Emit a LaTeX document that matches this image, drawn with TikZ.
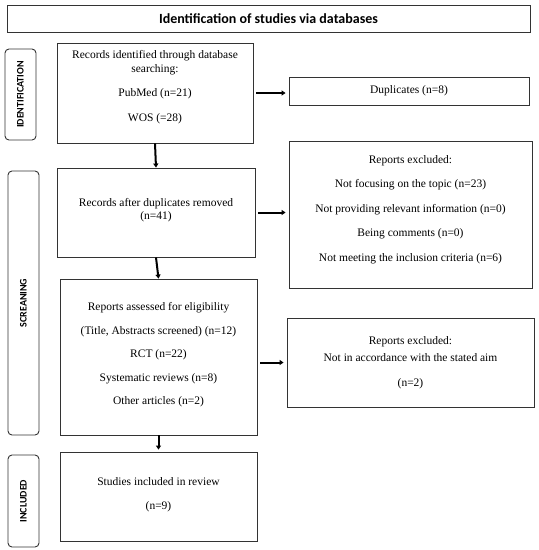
\documentclass[tikz,border=0pt]{standalone}
\usepackage{fontspec}
\setmainfont{Liberation Serif}
\newfontfamily\carlito{Carlito}
\usepackage{tikz}
\usetikzlibrary{arrows.meta}

\begin{document}
\begin{tikzpicture}[x=1pt,y=-1pt,
		box/.style={draw=black!80, line width=0.9pt, align=center, inner sep=0pt, font=\fontsize{11.5}{13.5}\selectfont},
		side/.style={draw=black!80, line width=0.9pt, rounded corners=4pt, minimum height=31pt, rotate=90, font=\carlito\bfseries\fontsize{10}{12}\selectfont},
		flow/.style={-{Triangle[length=4pt,width=5pt]}, line width=2pt}]
		\useasboundingbox (0,0) rectangle (539,550);

		\node[draw=black!80, line width=0.9pt, minimum width=523pt, minimum height=27pt, font=\carlito\bfseries\fontsize{14}{16}\selectfont] (title) at (268.5,18.5) {Identification of studies via databases};

		\foreach \name/\lab/\x/\y/\len in {idside/IDENTIFICATION/20.5/94.5/91, scside/SCREANING/23.5/303/264, inside/INCLUDED/23.5/501/92}{
			\node[side, minimum width=\len pt] (\name) at (\x,\y) {\lab};
		}

		\node[box, minimum width=196pt, minimum height=100pt, text depth=14pt] (records) at (155,93) {Records identified through database\\searching:\\[11pt]PubMed (n=21)\\[11pt]WOS (=28)};
		\node[box, minimum width=198pt, minimum height=89pt, text depth=7pt] (removed) at (156,212.5) {Records after duplicates removed\\(n=41)};
		\node[box, minimum width=197pt, minimum height=156pt, text depth=7pt] (assessed) at (158.5,357) {Reports assessed for eligibility\\[10pt](Title, Abstracts screened) (n=12)\\[10pt]RCT (n=22)\\[10pt]Systematic reviews (n=8)\\[10pt]Other articles (n=2)};
		\node[box, minimum width=197pt, minimum height=89pt, text depth=6pt] (included) at (158.5,496.5) {Studies included in review\\[10.5pt](n=9)};

		\node[box, minimum width=240pt, minimum height=28pt] (dupl) at (409,91) {Duplicates (n=8)};
		\node[box, minimum width=243pt, minimum height=147pt, text depth=12pt] (excl) at (410.5,214.5) {Reports excluded:\\[11pt]Not focusing on the topic (n=23)\\[11pt]Not providing relevant information (n=0)\\[11pt]Being comments (n=0)\\[11pt]Not meeting the inclusion criteria (n=6)};
		\node[box, minimum width=247pt, minimum height=89pt] (exclaim) at (410.5,362.5) {Reports excluded:\\[4pt]Not in accordance with the stated aim\\[11pt](n=2)};

		\draw[flow] (records.south) -- (removed.north);
		\draw[flow] (removed.south) -- (assessed.north);
		\draw[flow, shorten >=2pt] (assessed.south) -- (included.north);
		\draw[flow, shorten <=3pt, shorten >=3pt] (records.east) -- (records.east -| dupl.west);
		\draw[flow, shorten <=3pt, shorten >=3pt] (removed.east) -- (removed.east -| excl.west);
		\draw[flow, shorten <=3pt, shorten >=3pt] (exclaim.west -| assessed.east) -- (exclaim.west);
	\end{tikzpicture}
\end{document}
